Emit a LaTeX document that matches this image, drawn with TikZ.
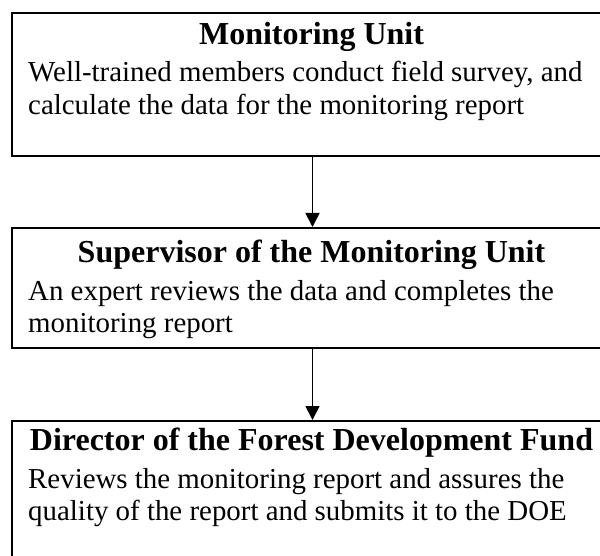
\documentclass[tikz,border=0pt]{standalone}
\usepackage{fontspec}
\setmainfont{Liberation Serif}
\usetikzlibrary{arrows.meta}
\begin{document}
\begin{tikzpicture}[x=1pt,y=1pt,
  box/.style={draw, line width=2pt, minimum width=601pt, anchor=north west, inner sep=0pt},
  ttl/.style={font=\fontsize{32}{36}\selectfont\bfseries, anchor=base, inner sep=0pt},
  body/.style={font=\fontsize{28.9}{33}\selectfont, anchor=base west, inner sep=0pt},
  arr/.style={line width=1.8pt, -{Triangle[length=14pt,width=14pt]}}]
\useasboundingbox (0,0) rectangle (600,-556);
\clip (0,0) rectangle (600,-556);
% box 1
\node[box, minimum height=143pt] (b1) at (11,-12) {};
\node[ttl] (t1) at (311.5,-45) {Monitoring Unit};
\node[body] (d1a) at (28,-82) {Well-trained members conduct field survey, and};
\node[body] (d1b) at (28,-115) {calculate the data for the monitoring report};
% box 2
\node[box, minimum height=120pt] (b2) at (11,-227) {};
\node[ttl] (t2) at (311.5,-262) {Supervisor of the Monitoring Unit};
\node[body] (d2a) at (28,-301) {An expert reviews the data and completes the};
\node[body] (d2b) at (28,-332) {monitoring report};
% box 3
\node[box, minimum height=160pt] (b3) at (11,-420) {};
\node[ttl] (t3) at (311.5,-450) {Director of the Forest Development Fund};
\node[body] (d3a) at (28,-488) {Reviews the monitoring report and assures the};
\node[body] (d3b) at (28,-520) {quality of the report and submits it to the DOE};
% arrows
\draw[arr] (b1.south) -- (b2.north);
\draw[arr] (b2.south) -- (b3.north);
\end{tikzpicture}
\end{document}
